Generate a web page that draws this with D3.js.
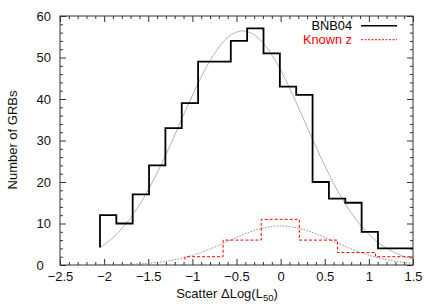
<!DOCTYPE html>
<html>
<head>
<meta charset="utf-8">
<script src="https://cdn.jsdelivr.net/npm/d3@7"></script>
<style>
  body { margin: 0; background: #fff; }
  svg { display: block; font-family: "Liberation Sans", Arial, sans-serif; }
</style>
</head>
<body>
<div id="chart"></div>
<script>
// histogram of all bursts (BNB04), equal-width bins
const bnbStart = -2.047;
const bnbWidth = 0.1853;
const bnbCounts = [12, 10, 17, 24, 33, 39, 49, 49, 54, 57, 51, 43, 41, 20, 16, 15, 8, 4];
const bnbFirstDrop = 4.2;

// histogram of bursts with known redshift
const knownStart = -1.084;
const knownWidth = 0.432;
const knownCounts = [2, 6, 11, 6, 3, 2];
const knownFirstDrop = 1.3;

// gaussian fits: [amplitude, mean, sigma]
const bnbFit = [56.4, -0.43, 0.71];
const knownFit = [9.4, 0.0, 0.6];

const xTicks = [-2.5, -2, -1.5, -1, -0.5, 0, 0.5, 1, 1.5];
const yTicks = [0, 10, 20, 30, 40, 50, 60];
const legendLabels = ["BNB04", "Known z"];

const W = 436, H = 305;
const M = { left: 60, right: 413, top: 16, bottom: 265 };
const fontSize = 13;

const x = d3.scaleLinear().domain([-2.5, 1.5]).range([M.left, M.right]);
const y = d3.scaleLinear().domain([0, 60]).range([M.bottom, M.top]);

const svg = d3.select("#chart").append("svg")
  .attr("width", W)
  .attr("height", H);

const axisColor = "#333";

// minor tick positions
const xMinor = d3.range(-25, 16).map(d => d / 10).filter(v => !xTicks.some(t => Math.abs(t - v) < 1e-9));
const yMinor = d3.range(0, 61, 2).filter(v => v % 10 !== 0);

const styleAxis = g => {
  g.select(".domain").remove();
  g.selectAll("line").attr("stroke", axisColor);
  g.selectAll("text").attr("fill", "#111").attr("font-size", fontSize);
};

// bottom
svg.append("g").attr("transform", `translate(0,${M.bottom})`)
  .call(d3.axisBottom(x).tickValues(xTicks).tickSize(-6).tickPadding(7).tickFormat(d3.format("")))
  .call(styleAxis);
svg.append("g").attr("transform", `translate(0,${M.bottom})`)
  .call(d3.axisBottom(x).tickValues(xMinor).tickSize(-3).tickFormat(""))
  .call(styleAxis);
// top
svg.append("g").attr("transform", `translate(0,${M.top})`)
  .call(d3.axisTop(x).tickValues(xTicks).tickSize(-6).tickFormat(""))
  .call(styleAxis);
svg.append("g").attr("transform", `translate(0,${M.top})`)
  .call(d3.axisTop(x).tickValues(xMinor).tickSize(-3).tickFormat(""))
  .call(styleAxis);
// left (labels are left-aligned in the original)
svg.append("g").attr("transform", `translate(${M.left},0)`)
  .call(d3.axisLeft(y).tickValues(yTicks).tickSize(-6).tickPadding(8))
  .call(styleAxis)
  .call(g => g.selectAll("text").attr("text-anchor", "start").attr("x", -23.5));
svg.append("g").attr("transform", `translate(${M.left},0)`)
  .call(d3.axisLeft(y).tickValues(yMinor).tickSize(-3).tickFormat(""))
  .call(styleAxis);
// right
svg.append("g").attr("transform", `translate(${M.right},0)`)
  .call(d3.axisRight(y).tickValues(yTicks).tickSize(-6).tickFormat(""))
  .call(styleAxis);
svg.append("g").attr("transform", `translate(${M.right},0)`)
  .call(d3.axisRight(y).tickValues(yMinor).tickSize(-3).tickFormat(""))
  .call(styleAxis);

// frame
svg.append("rect")
  .attr("x", M.left).attr("y", M.top)
  .attr("width", M.right - M.left).attr("height", M.bottom - M.top)
  .attr("fill", "none").attr("stroke", axisColor).attr("stroke-width", 1);

svg.append("clipPath").attr("id", "plot-clip")
  .append("rect")
  .attr("x", M.left).attr("y", M.top - 2)
  .attr("width", M.right - M.left).attr("height", M.bottom - M.top + 2);

const plot = svg.append("g").attr("clip-path", "url(#plot-clip)");

// gaussian fit curves
const gauss = p => v => p[0] * Math.exp(-((v - p[1]) ** 2) / (2 * p[2] * p[2]));
const curve = d3.line().x(d => x(d[0])).y(d => y(d[1]));
const grid = d3.range(bnbStart, 1.5001, 0.01);

plot.append("path")
  .datum(grid.map(v => [v, gauss(knownFit)(v)]))
  .attr("d", curve)
  .attr("fill", "none")
  .attr("stroke", "#666")
  .attr("stroke-width", 0.8)
  .attr("stroke-dasharray", "1.5,1.5");

plot.append("path")
  .datum(grid.map(v => [v, gauss(bnbFit)(v)]))
  .attr("d", curve)
  .attr("fill", "none")
  .attr("stroke", "#999")
  .attr("stroke-width", 0.8);

// step outline for a histogram
const steps = (start, width, counts, firstDrop) => {
  const pts = [[start, firstDrop]];
  counts.forEach((c, i) => {
    const x0 = start + i * width;
    const x1 = i === counts.length - 1 ? 1.5 : x0 + width;
    pts.push([x0, c], [x1, c]);
  });
  return pts;
};

plot.append("path")
  .datum(steps(knownStart, knownWidth, knownCounts, knownFirstDrop))
  .attr("d", curve)
  .attr("fill", "none")
  .attr("stroke", "#f00")
  .attr("stroke-width", 1)
  .attr("stroke-dasharray", "3,2");

plot.append("path")
  .datum(steps(bnbStart, bnbWidth, bnbCounts, bnbFirstDrop))
  .attr("d", curve)
  .attr("fill", "none")
  .attr("stroke", "#000")
  .attr("stroke-width", 1.8);

// legend
const legend = svg.append("g");
legendLabels.forEach((label, i) => {
  const ly = 25.7 + i * 14;
  legend.append("text")
    .attr("x", 352).attr("y", ly + 4.2)
    .attr("text-anchor", "end")
    .attr("font-size", 12.8)
    .attr("fill", i === 0 ? "#000" : "#f00")
    .text(label);
  legend.append("line")
    .attr("x1", 361).attr("x2", 397)
    .attr("y1", ly).attr("y2", ly)
    .attr("stroke", i === 0 ? "#000" : "#f00")
    .attr("stroke-width", i === 0 ? 1.5 : 1)
    .attr("stroke-dasharray", i === 0 ? null : "2,1.5");
});

// axis titles
const xt = svg.append("text")
  .attr("x", 227).attr("y", 298)
  .attr("text-anchor", "middle")
  .attr("font-size", fontSize)
  .attr("fill", "#111");
xt.append("tspan").text("Scatter \u0394Log(L");
xt.append("tspan").attr("font-size", 9.5).attr("dy", 3).text("50");
xt.append("tspan").attr("dy", -3).text(")");

svg.append("text")
  .attr("transform", `translate(17,140) rotate(-90)`)
  .attr("text-anchor", "middle")
  .attr("font-size", fontSize)
  .attr("fill", "#111")
  .text("Number of GRBs");
</script>
</body>
</html>
